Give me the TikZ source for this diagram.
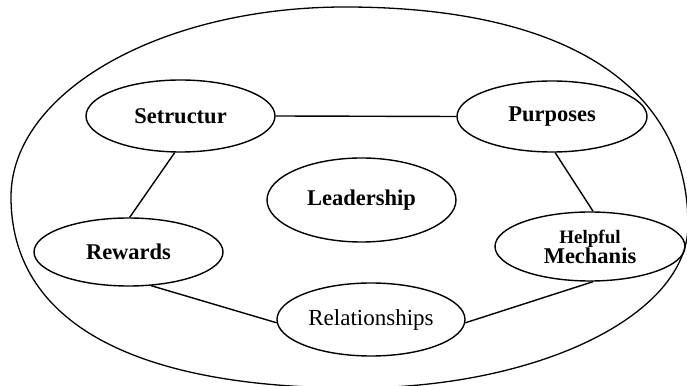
\documentclass[tikz,border=0pt]{standalone}
\usepackage{fontspec}
\setmainfont{Liberation Serif}
\usetikzlibrary{shapes.geometric, math}

\begin{document}
\begin{tikzpicture}[x=1pt, y=1pt,
bubble/.style={ellipse, draw, line width =1.4, inner sep=0pt, minimum width=189pt, minimum height=70pt, font=\fontsize{22.5}{24}\selectfont\bfseries},
link/.style={line width =1.4}]
\tikzmath{
\W=687;
\H=385;
}
\useasboundingbox (0,0) rectangle (\W,\H);

% outer ring, a little fuller at lower left and upper right
\draw[line width =1.3] (11,188)
  .. controls (11,63.9) and (131.4,-3) .. (355,-3)
  .. controls (538.8,-3) and (688,70) .. (688,160)
  .. controls (688,299.5) and (564.5,378) .. (345,378)
  .. controls (160.6,378) and (11,292.9) .. cycle;

\node[bubble, minimum height=72pt] (setr) at (180.5,269) {Setructur};
\node[bubble, minimum width=190pt, minimum height=71pt] (purp) at (552,268.5) {Purposes};
\node[bubble, minimum height=84pt] (lead) at (361.5,185) {Leadership};
\node[bubble, minimum height=68pt] (rew) at (128.5,133) {Rewards};
\node[bubble, minimum width=190pt, minimum height=69pt, align=center] (help) at (590,138.5)
  {{\fontsize{19}{20}\selectfont Helpful}\\[-4pt]Mechanis};
\node[bubble, minimum width=188pt, minimum height=73pt, font=\fontsize{23}{24}\selectfont] (rel) at (371,65.5) {Relationships};

\draw[link] (setr.east) -- (purp.west);
\draw[link] (setr.-99) -- (rew.88);
\draw[link] (purp.-85) -- (help.85);
\draw[link] (rew.-56) -- (rel.182);
\draw[link] (rel.-2) -- (help.-85);

\end{tikzpicture}
\end{document}
